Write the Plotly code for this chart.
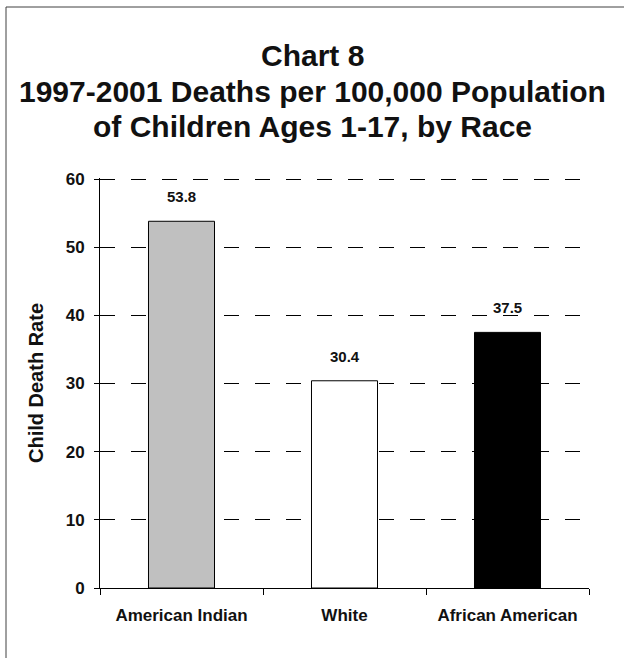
import plotly.graph_objects as go

categories = ["American Indian", "White", "African American"]
rates = [53.8, 30.4, 37.5]
bar_colors = ["#C0C0C0", "#FFFFFF", "#000000"]
y_ticks = [0, 10, 20, 30, 40, 50, 60]
title_lines = ["Chart 8", "1997-2001 Deaths per 100,000 Population", "of Children Ages 1-17, by Race"]
y_title = "Child Death Rate"

FONT = "Arial, Liberation Sans, sans-serif"

W, H = 624, 658
L, R, T, B = 100, 35, 178, 70
pw, ph = W - L - R, H - T - B

fig = go.Figure()
fig.add_trace(go.Bar(
    x=categories, y=rates, width=0.405,
    marker=dict(color=bar_colors, line=dict(color="#000000", width=1)),
    hoverinfo="skip",
))

for c, v in zip(categories, rates):
    fig.add_annotation(x=c, y=v, text=f"<b>{v:.1f}</b>", showarrow=False,
                       yanchor="bottom", yshift=14,
                       font=dict(family=FONT, size=15, color="#111111"))

# title lines, centred on the whole figure
title_centers_px = [56, 91, 127]
for line, cy in zip(title_lines, title_centers_px):
    fig.add_annotation(x=(W / 2 - L) / pw, xref="paper", xanchor="center",
                       y=(H - B - cy) / ph, yref="paper", yanchor="middle",
                       text=f"<b>{line}</b>", showarrow=False,
                       font=dict(family=FONT, size=30, color="#111111"))

fig.add_shape(type="rect", xref="paper", yref="paper",
              x0=(6 - L) / pw, x1=(W + 2 - L) / pw,
              y0=-(B + 2) / ph, y1=(H - B - 7) / ph,
              line=dict(color="#404040", width=1), fillcolor="rgba(0,0,0,0)", layer="below")

fig.update_layout(
    width=W, height=H,
    margin=dict(l=L, r=R, t=T, b=B, autoexpand=False),
    paper_bgcolor="white", plot_bgcolor="white",
    showlegend=False,
    font=dict(family=FONT, color="#111111"),
)
fig.update_xaxes(
    showline=True, linecolor="#000000", linewidth=1,
    ticks="outside", tickson="boundaries", ticklen=6, tickcolor="#000000",
    tickfont=dict(family=FONT, size=17, color="#111111", weight="bold"),
    ticklabelstandoff=12, showgrid=False, zeroline=False,
)
fig.update_yaxes(
    range=[0, 60.15], tickvals=y_ticks, ticktext=[f"{t}" for t in y_ticks],
    showline=True, linecolor="#000000", linewidth=1,
    ticks="outside", ticklen=5, tickcolor="#000000",
    tickfont=dict(family=FONT, size=17, color="#111111", weight="bold"),
    ticklabelstandoff=6,
    showgrid=True, gridcolor="#000000", gridwidth=1, griddash="15px,16px",
    zeroline=False,
    title=dict(text=f"<b>{y_title}</b>", standoff=16,
               font=dict(family=FONT, size=20, color="#111111")),
)

fig.write_html("out.html")
